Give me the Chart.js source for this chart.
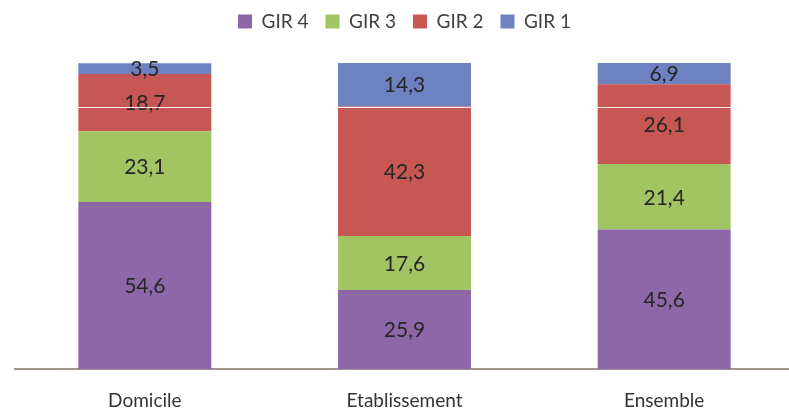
<!DOCTYPE html>
<html>
<head>
<meta charset="utf-8">
<script src="https://cdn.jsdelivr.net/npm/chart.js@4.4.1/dist/chart.umd.min.js"></script>
<style>
  html, body { margin: 0; padding: 0; background: #fff; overflow: hidden; }
  #wrap { width: 794px; height: 408px; }
</style>
</head>
<body>
<div id="wrap"><canvas id="girChart"></canvas></div>
<script>
// Categories and series (percent shares)
const categories = ['Domicile', 'Etablissement', 'Ensemble'];
const gir4 = [54.6, 25.9, 45.6];
const gir3 = [23.1, 17.6, 21.4];
const gir2 = [18.7, 42.3, 26.1];
const gir1 = [3.5, 14.3, 6.9];
const seriesNames = ['GIR 4', 'GIR 3', 'GIR 2', 'GIR 1'];

// Thin white rule visible across the reference
const whiteRuleValue = 85.6;

const colors = ['#8e67a9', '#a0c562', '#c65755', '#6e82c2'];
const labelFont = 'Lato, "Open Sans", "Liberation Sans", sans-serif';

// Function to leave extra room under the legend
const legendGap = {
  id: 'legendGap',
  beforeInit(chart) {
    const fit = chart.legend.fit;
    chart.legend.fit = function () {
      fit.call(this);
      this.height += 22;
    };
  },
};

// Function to write the value inside each bar segment
const segmentLabels = {
  id: 'segmentLabels',
  afterDatasetsDraw(chart) {
    const ctx = chart.ctx;
    ctx.save();
    ctx.font = '21px ' + labelFont;
    ctx.fillStyle = '#262626';
    ctx.textAlign = 'center';
    ctx.textBaseline = 'middle';
    chart.data.datasets.forEach((ds, i) => {
      const meta = chart.getDatasetMeta(i);
      meta.data.forEach((bar, j) => {
        const text = ds.data[j].toFixed(1).replace('.', ',');
        ctx.fillText(text, bar.x, (bar.y + bar.base) / 2 + 1);
      });
    });
    ctx.restore();
  },
};

// Function to draw the faint white line over the bars
const whiteRule = {
  id: 'whiteRule',
  afterDraw(chart) {
    const { ctx, chartArea, scales } = chart;
    const y = Math.round(scales.y.getPixelForValue(whiteRuleValue)) + 0.5;
    ctx.save();
    ctx.strokeStyle = 'rgba(255,255,255,0.9)';
    ctx.lineWidth = 1;
    ctx.beginPath();
    ctx.moveTo(0, y);
    ctx.lineTo(chartArea.right, y);
    ctx.stroke();
    ctx.restore();
  },
};

const ctx = document.getElementById('girChart').getContext('2d');
new Chart(ctx, {
  type: 'bar',
  data: {
    labels: categories,
    datasets: [gir4, gir3, gir2, gir1].map((values, i) => ({
      label: seriesNames[i],
      data: values,
      backgroundColor: colors[i],
      borderWidth: 0,
      barPercentage: 0.512,
      categoryPercentage: 1,
    })),
  },
  options: {
    responsive: true,
    maintainAspectRatio: false,
    animation: false,
    layout: { padding: { left: 15, right: 0, top: -5, bottom: -24 } },
    plugins: {
      legend: {
        position: 'top',
        labels: {
          boxWidth: 14,
          boxHeight: 14,
          padding: 17,
          color: '#404040',
          font: { family: labelFont, size: 19 },
        },
      },
      tooltip: { enabled: false },
    },
    scales: {
      x: {
        stacked: true,
        grid: { display: false, drawTicks: false },
        border: { display: true, color: '#a0978f', width: 2 },
        ticks: {
          padding: 20,
          color: '#333333',
          font: { family: labelFont, size: 19 },
        },
      },
      y: {
        stacked: true,
        display: false,
        min: 0,
        max: 100,
      },
    },
  },
  plugins: [legendGap, segmentLabels, whiteRule],
});
</script>
</body>
</html>
